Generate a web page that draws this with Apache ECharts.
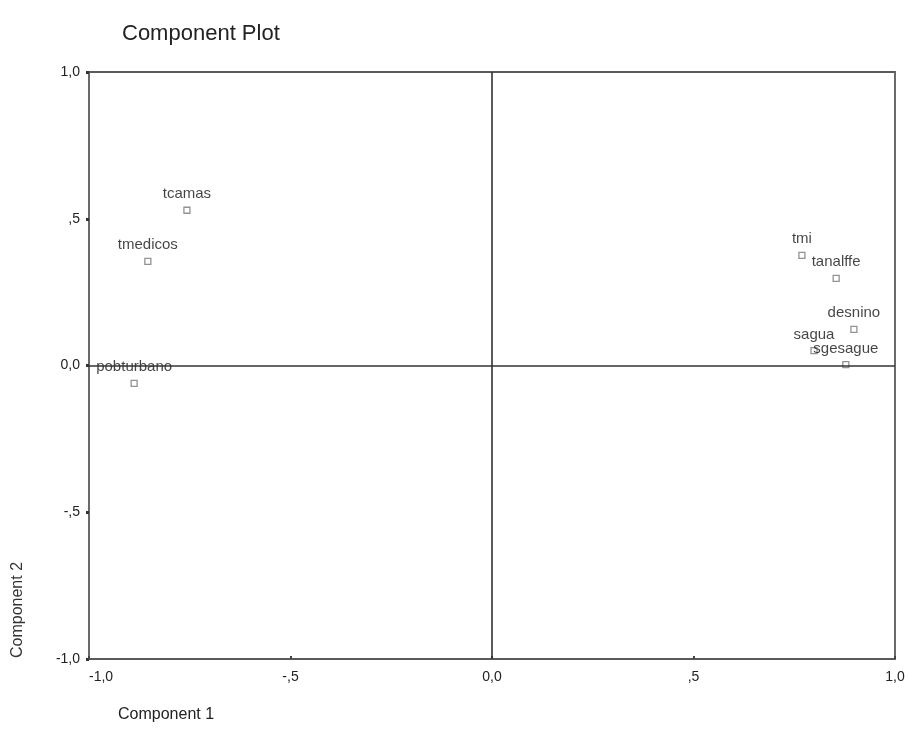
<!DOCTYPE html>
<html>
<head>
<meta charset="utf-8">
<script src="https://cdn.jsdelivr.net/npm/echarts@6/dist/echarts.min.js"></script>
<style>html,body{margin:0;padding:0;background:#fff;}#c{width:910px;height:753px;}</style>
</head>
<body>
<div id="c"></div>
<script>
var variableNames = ['tcamas', 'tmedicos', 'pobturbano', 'tmi', 'tanalffe', 'desnino', 'sagua', 'sgesague'];
var component1 = [-0.757, -0.854, -0.888, 0.769, 0.854, 0.898, 0.799, 0.878];
var component2 = [0.529, 0.355, -0.061, 0.375, 0.297, 0.123, 0.051, 0.003];
var tickValues = [-1, -0.5, 0, 0.5, 1];
var xTickLabels = ['-1,0', '-,5', '0,0', ',5', '1,0'];
var yTickLabels = ['-1,0', '-,5', '0,0', ',5', '1,0'];

function tickLabel(labels) {
  return function (v) {
    for (var i = 0; i < tickValues.length; i++) {
      if (Math.abs(v - tickValues[i]) < 1e-9) return labels[i];
    }
    return '';
  };
}

var points = variableNames.map(function (n, i) {
  return { name: n, value: [component1[i], component2[i]] };
});

var font = 'Liberation Sans, Arial, sans-serif';
var chart = echarts.init(document.getElementById('c'));
chart.setOption({
  backgroundColor: '#ffffff',
  animation: false,
  title: {
    text: 'Component Plot',
    left: 117, top: 18,
    textStyle: { fontFamily: font, fontSize: 22, fontWeight: 'normal', color: '#222' }
  },
  grid: {
    left: 89, right: 15, top: 72, bottom: 94,
    show: true, borderColor: '#5a5a5a', borderWidth: 1.8, backgroundColor: '#fff'
  },
  xAxis: {
    type: 'value', min: -1, max: 1, interval: 0.5,
    axisLine: { show: false, onZero: false },
    axisTick: { show: true, inside: true, length: 3, lineStyle: { color: '#444', width: 2 } },
    splitLine: { show: false },
    axisLabel: { formatter: tickLabel(xTickLabels), margin: 11, fontFamily: font, fontSize: 14, color: '#222', alignMinLabel: 'left' }
  },
  yAxis: {
    type: 'value', min: -1, max: 1, interval: 0.5,
    axisLine: { show: false, onZero: false },
    axisTick: { show: true, inside: false, length: 3, lineStyle: { color: '#333', width: 3 } },
    splitLine: { show: false },
    axisLabel: { formatter: tickLabel(yTickLabels), margin: 9, fontFamily: font, fontSize: 14, color: '#222' }
  },
  graphic: [
    { type: 'text', left: 118, top: 707, style: { text: 'Component 1', font: '16px ' + font, fill: '#222' } },
    { type: 'text', x: 10, y: 658, rotation: Math.PI / 2, style: { text: 'Component 2', font: '16px ' + font, fill: '#333', textAlign: 'left', textVerticalAlign: 'top' } }
  ],
  series: [{
    type: 'scatter',
    data: points,
    symbol: 'rect',
    symbolSize: 6,
    itemStyle: { color: '#fff', borderColor: '#777', borderWidth: 1.3 },
    label: {
      show: true, position: 'top', distance: 5,
      formatter: '{b}', fontFamily: font, fontSize: 15, color: '#151515'
    },
    markLine: {
      silent: true, symbol: 'none', label: { show: false },
      lineStyle: { color: '#333', width: 1.6, type: 'solid' },
      data: [{ xAxis: 0 }, { yAxis: 0 }]
    }
  }]
});
</script>
</body>
</html>
